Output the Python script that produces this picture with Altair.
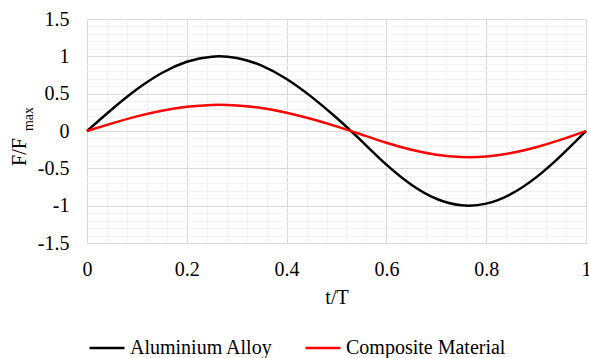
import altair as alt
import pandas as pd

# t/T sample points
t_vals = [0, 0.05, 0.10, 0.15, 0.20, 0.25, 0.30, 0.35, 0.40, 0.45, 0.50,
          0.55, 0.60, 0.65, 0.70, 0.75, 0.80, 0.85, 0.90, 0.95, 1.00]
aluminium = [0, 0.292, 0.559, 0.777, 0.927, 0.996, 0.978, 0.876, 0.697, 0.457, 0.177,
             -0.133, -0.451, -0.719, -0.907, -0.995, -0.973, -0.843, -0.621, -0.329, 0]
composite = [0, 0.102, 0.196, 0.272, 0.324, 0.349, 0.342, 0.307, 0.244, 0.160, 0.062,
             -0.047, -0.158, -0.252, -0.317, -0.348, -0.341, -0.295, -0.217, -0.115, 0]
series_names = ["Aluminium Alloy", "Composite Material"]
series_colors = ["#000000", "#ff0000"]

x_ticks = [0, 0.2, 0.4, 0.6, 0.8, 1]
y_ticks = [-1.5, -1, -0.5, 0, 0.5, 1, 1.5]

rows = []
for name, vals in zip(series_names, [aluminium, composite]):
    for t, v in zip(t_vals, vals):
        rows.append({"t": t, "v": v, "series": name})
df = pd.DataFrame(rows)

minor_x = [round(i * 0.04, 2) for i in range(26) if i % 5 != 0]
minor_y = [round(-1.5 + i * 0.1, 1) for i in range(31) if i % 5 != 0]

FONT = "Liberation Serif"
xs = alt.Scale(domain=[0, 1], nice=False, zero=False)
ys = alt.Scale(domain=[-1.5, 1.5], nice=False, zero=False)

base = alt.Chart(df)

minor = base.mark_point(opacity=0).encode(
    x=alt.X("t:Q", scale=xs, axis=alt.Axis(orient="top", values=minor_x, grid=True,
                                            gridColor="#f2f2f2", gridWidth=1, labels=False,
                                            ticks=False, domain=False, title=None)),
    y=alt.Y("v:Q", scale=ys, axis=alt.Axis(orient="right", values=minor_y, grid=True,
                                            gridColor="#f2f2f2", gridWidth=1, labels=False,
                                            ticks=False, domain=False, title=None)),
)

lines = base.mark_line(strokeWidth=2.5, interpolate="natural").encode(
    x=alt.X("t:Q", scale=xs, axis=alt.Axis(orient="bottom", values=x_ticks, grid=True,
                                            gridColor="#d9d9d9", gridWidth=1, ticks=False,
                                            tickSize=0, domain=False, labelFlush=False,
                                            labelExpr="datum.value + ''", labelFont=FONT,
                                            labelFontSize=20, labelColor="#000000",
                                            labelPadding=16, title="t/T", titleFont=FONT,
                                            titleFontSize=20, titleFontWeight="normal",
                                            titleColor="#000000", titlePadding=8)),
    y=alt.Y("v:Q", scale=ys, axis=alt.Axis(orient="left", values=y_ticks, grid=True,
                                            gridColor="#d9d9d9", gridWidth=1, ticks=False,
                                            tickSize=0, domain=False, labelFlush=False,
                                            labelExpr="datum.value + ''", labelFont=FONT,
                                            labelFontSize=20, labelColor="#000000",
                                            labelPadding=18, title=None)),
    color=alt.Color("series:N", scale=alt.Scale(domain=series_names, range=series_colors),
                    legend=alt.Legend(title=None, orient="none", legendX=1, legendY=310,
                                      direction="horizontal", symbolType="stroke",
                                      symbolSize=1225, symbolStrokeWidth=2.5,
                                      labelFont=FONT, labelFontSize=20, labelColor="#000000",
                                      labelOffset=4, columnPadding=27, padding=0)),
)

title_main = alt.Chart(pd.DataFrame({"s": ["F/F"]})).mark_text(
    font=FONT, fontSize=20, angle=270, align="center", baseline="middle", color="#000000"
).encode(text="s:N", x=alt.value(-67), y=alt.value(133))

title_sub = alt.Chart(pd.DataFrame({"s": ["max"]})).mark_text(
    font=FONT, fontSize=14, angle=270, align="center", baseline="middle", color="#000000"
).encode(text="s:N", x=alt.value(-58), y=alt.value(100))

chart = alt.layer(minor, lines, title_main, title_sub).resolve_axis(
    x="independent", y="independent"
).properties(
    width=499, height=224,
    autosize=alt.AutoSizeParams(type="none"),
    padding={"left": 87, "top": 19, "right": 3, "bottom": 115},
).configure(
    background="#ffffff", font=FONT
).configure_view(
    stroke=None
).configure_axis(
    labelFont=FONT, titleFont=FONT
).configure_legend(
    labelFont=FONT
).configure_text(
    font=FONT
)

chart.save("out.html", embed_options={"renderer": "svg", "actions": False})
